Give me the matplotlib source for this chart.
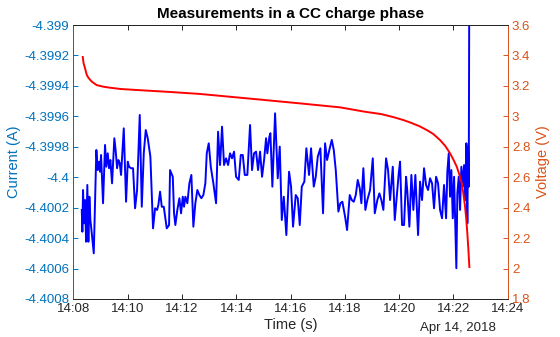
import pandas as pd
import matplotlib
matplotlib.use("Agg")
import matplotlib.pyplot as plt
import matplotlib.dates as mdates

plt.rcParams['font.family'] = ['Liberation Sans', 'DejaVu Sans']

# start of the record
t0 = pd.Timestamp("2018-04-14 14:08:00")

# current samples: seconds after 14:08 and value (A)
cur_t = [18.6, 19.9, 21.4, 23.6, 25.9, 28.1, 30.9, 33.2, 35.4, 37.6,
         40.7, 45.1, 48.0, 50.8, 53.9, 56.8, 59.0, 61.2, 65.6, 70.0,
         72.9, 76.0, 78.9, 81.8, 85.5, 90.6, 93.7, 96.6, 99.5, 102.5,
         105.4, 111.4, 116.5, 120.2, 123.1, 127.5, 131.9, 136.4, 140.8, 146.7,
         151.2, 155.6, 160.0, 164.4, 170.2, 176.1, 180.6, 185.0, 187.9, 191.6,
         195.4, 199.8, 206.4, 211.5, 213.7, 219.7, 222.5, 225.4, 229.8, 234.3,
         238.0, 241.8, 244.6, 247.5, 251.9, 256.4, 260.8, 265.2, 269.6, 274.0,
         278.5, 282.9, 287.3, 291.7, 294.8, 299.2, 303.7, 309.4, 315.4, 319.8,
         324.2, 328.6, 333.0, 337.5, 341.9, 346.3, 350.7, 355.1, 359.6, 365.5,
         370.0, 374.4, 378.8, 384.5, 390.5, 394.9, 399.3, 403.8, 408.2, 412.6,
         417.0, 421.5, 425.9, 428.7, 433.2, 435.4, 439.8, 445.8, 451.7, 456.1,
         460.6, 465.0, 470.7, 476.7, 481.1, 485.5, 491.5, 495.9, 500.3, 504.8,
         510.5, 514.9, 520.9, 525.3, 531.3, 535.7, 540.1, 545.9, 551.8, 556.3,
         560.7, 566.6, 571.1, 575.5, 579.9, 585.7, 590.1, 594.5, 600.5, 604.9,
         610.8, 615.3, 619.7, 624.1, 628.5, 633.0, 636.5, 640.9, 645.3, 649.7,
         655.7, 661.7, 666.1, 671.8, 676.3, 680.7, 685.1, 691.1, 695.5, 699.9,
         705.9, 710.3, 714.7, 719.1, 722.0, 726.4, 730.8, 735.3, 738.1, 742.6,
         747.0, 751.4, 755.8, 761.8, 766.2, 770.6, 775.0, 779.5, 783.9, 788.3,
         792.7, 797.1, 801.6, 806.0, 810.4, 814.8, 819.2, 823.7, 826.5, 829.6,
         832.5, 835.4, 838.5, 841.4, 844.2, 846.4, 848.6, 851.7, 854.6, 857.5,
         860.6, 863.5, 866.3, 868.5, 870.7, 872.3, 873.8, 875.2]

current = [-4.400215, -4.400358, -4.400084, -4.400303, -4.400150, -4.400424, -4.400051, -4.400424, -4.400128, -4.400281,
           -4.400368, -4.400500, -4.400150, -4.399821, -4.399953, -4.399898, -4.399964, -4.399854, -4.400171, -4.399788,
           -4.399931, -4.399843, -4.399941, -4.399887, -4.400040, -4.399744, -4.399832, -4.399941, -4.399887, -4.399908,
           -4.399985, -4.399679, -4.400161, -4.399898, -4.399931, -4.399941, -4.399941, -4.400204, -4.400084, -4.399591,
           -4.400194, -4.399843, -4.399690, -4.399744, -4.399865, -4.400336, -4.400204, -4.400215, -4.400182, -4.400095,
           -4.400194, -4.400194, -4.400336, -4.400314, -4.399953, -4.399997, -4.400235, -4.400314, -4.400215, -4.400138,
           -4.400237, -4.400128, -4.400194, -4.400128, -4.400171, -4.400040, -4.399985, -4.400325, -4.400171, -4.400084,
           -4.400117, -4.400138, -4.400117, -4.400040, -4.399843, -4.399777, -4.399931, -4.400040, -4.400171, -4.399701,
           -4.399920, -4.399668, -4.399920, -4.399876, -4.399920, -4.399843, -4.399876, -4.399832, -4.399997, -4.400018,
           -4.399854, -4.399854, -4.399985, -4.399985, -4.399657, -4.399953, -4.399843, -4.399832, -4.399953, -4.399832,
           -4.399997, -4.399887, -4.399744, -4.399843, -4.399734, -4.399711, -4.400062, -4.399580, -4.400007, -4.399799,
           -4.400281, -4.400128, -4.400380, -4.399964, -4.400062, -4.400325, -4.400117, -4.400138, -4.400314, -4.400062,
           -4.400029, -4.399810, -4.399985, -4.399810, -4.400062, -4.399997, -4.399865, -4.399810, -4.400237, -4.399777,
           -4.399887, -4.399810, -4.399755, -4.399821, -4.399953, -4.400226, -4.400171, -4.400161, -4.400259, -4.400347,
           -4.400117, -4.400150, -4.400161, -4.400117, -4.400018, -4.400073, -4.400171, -4.399941, -4.400215, -4.400150,
           -4.400084, -4.399876, -4.400237, -4.400150, -4.400106, -4.400150, -4.400215, -4.399876, -4.399953, -4.400150,
           -4.399931, -4.400281, -4.400128, -4.399974, -4.399898, -4.400314, -4.400314, -4.399997, -4.400095, -4.400325,
           -4.399985, -4.400215, -4.399985, -4.400380, -4.400029, -4.400150, -4.399941, -4.400051, -4.400084, -4.400007,
           -4.400040, -4.400204, -4.399997, -4.400040, -4.400215, -4.400270, -4.400051, -4.400270, -4.399964, -4.399843,
           -4.400128, -4.399953, -4.400270, -4.399997, -4.400347, -4.400598, -4.400106, -4.399997, -4.400215, -4.399931,
           -4.400062, -4.399920, -4.400150, -4.399777, -4.400303, -4.399799, -4.400062, -4.398500]

# voltage samples: seconds after 14:08 and value (V)
volt_t = [20.8, 22.5, 25.9, 28.0, 30.0, 33.0, 36.9, 42.0, 51.7, 59.0,
          65.6, 81.1, 103.0, 140.1, 214.0, 280.0, 423.7, 501.0, 589.4, 644.7,
          680.0, 707.2, 730.0, 744.0, 765.0, 781.0, 795.0, 810.4, 822.0, 832.5,
          840.0, 847.3, 853.0, 858.4, 862.0, 865.7, 868.3, 870.7, 873.0, 875.2]
voltage = [3.39, 3.35, 3.315, 3.29, 3.27, 3.255, 3.24, 3.225, 3.205, 3.20,
           3.195, 3.188, 3.18, 3.173, 3.16, 3.147, 3.107, 3.085, 3.059, 3.03,
           3.015, 2.995, 2.975, 2.96, 2.935, 2.91, 2.885, 2.844, 2.805, 2.757,
           2.715, 2.669, 2.618, 2.56, 2.49, 2.406, 2.325, 2.231, 2.125, 2.01]

cur_ticks = [-4.4008, -4.4006, -4.4004, -4.4002, -4.4, -4.3998, -4.3996, -4.3994, -4.3992, -4.399]
cur_labels = ['-4.4008', '-4.4006', '-4.4004', '-4.4002', '-4.4', '-4.3998', '-4.3996', '-4.3994', '-4.3992', '-4.399']
volt_ticks = [1.8, 2.0, 2.2, 2.4, 2.6, 2.8, 3.0, 3.2, 3.4, 3.6]
volt_labels = ['1.8', '2', '2.2', '2.4', '2.6', '2.8', '3', '3.2', '3.4', '3.6']

blue_ax = '#0072BD'
orange_ax = '#D95319'
dark = '#262626'

cur_time = t0 + pd.to_timedelta(cur_t, unit='s')
volt_time = t0 + pd.to_timedelta(volt_t, unit='s')

fig = plt.figure(figsize=(5.6, 3.37), dpi=100)
ax = fig.add_axes([0.131, 0.1128, 0.7757, 0.813])
ax2 = ax.twinx()

ax.plot(cur_time, current, color='#0000FF', lw=1.4)
ax2.plot(volt_time, voltage, color='#FF0000', lw=1.4)

ax.set_xlim(t0, t0 + pd.Timedelta(minutes=16))
ax.set_ylim(-4.4008, -4.399)
ax2.set_ylim(1.8, 3.6)

ax.xaxis.set_major_locator(mdates.MinuteLocator(byminute=range(0, 60, 2)))
ax.xaxis.set_major_formatter(mdates.DateFormatter('%H:%M'))
ax.set_yticks(cur_ticks)
ax.set_yticklabels(cur_labels)
ax2.set_yticks(volt_ticks)
ax2.set_yticklabels(volt_labels)

ax.tick_params(axis='x', direction='in', length=3.5, width=0.7, colors=dark,
               labelsize=9.5, top=True, pad=3)
ax.tick_params(axis='y', direction='in', length=3.5, width=0.7, colors=blue_ax,
               labelsize=9.5, pad=3)
ax2.tick_params(axis='y', direction='in', length=3.5, width=0.7, colors=orange_ax,
                labelsize=9.5, pad=3)

for a in (ax, ax2):
    a.spines['top'].set_color(dark)
    a.spines['bottom'].set_color(dark)
    for s in a.spines.values():
        s.set_linewidth(0.7)
ax.spines['left'].set_color(blue_ax)
ax2.spines['left'].set_color(blue_ax)
ax.spines['right'].set_visible(False)
ax2.spines['right'].set_color(orange_ax)

ax.set_ylabel('Current (A)', color=blue_ax, fontsize=10.5, labelpad=2)
ax2.set_ylabel('Voltage (V)', color=orange_ax, fontsize=10.5, labelpad=4)
ax.set_xlabel('Time (s)', color=dark, fontsize=10.5, labelpad=2)
ax.set_title('Measurements in a CC charge phase', fontsize=11,
             fontweight='bold', color='black', pad=5)
ax.text(0.973, -0.106, 'Apr 14, 2018', transform=ax.transAxes, ha='right',
        va='center', fontsize=9.5, color=dark)

fig.savefig('out.png', dpi=100)
